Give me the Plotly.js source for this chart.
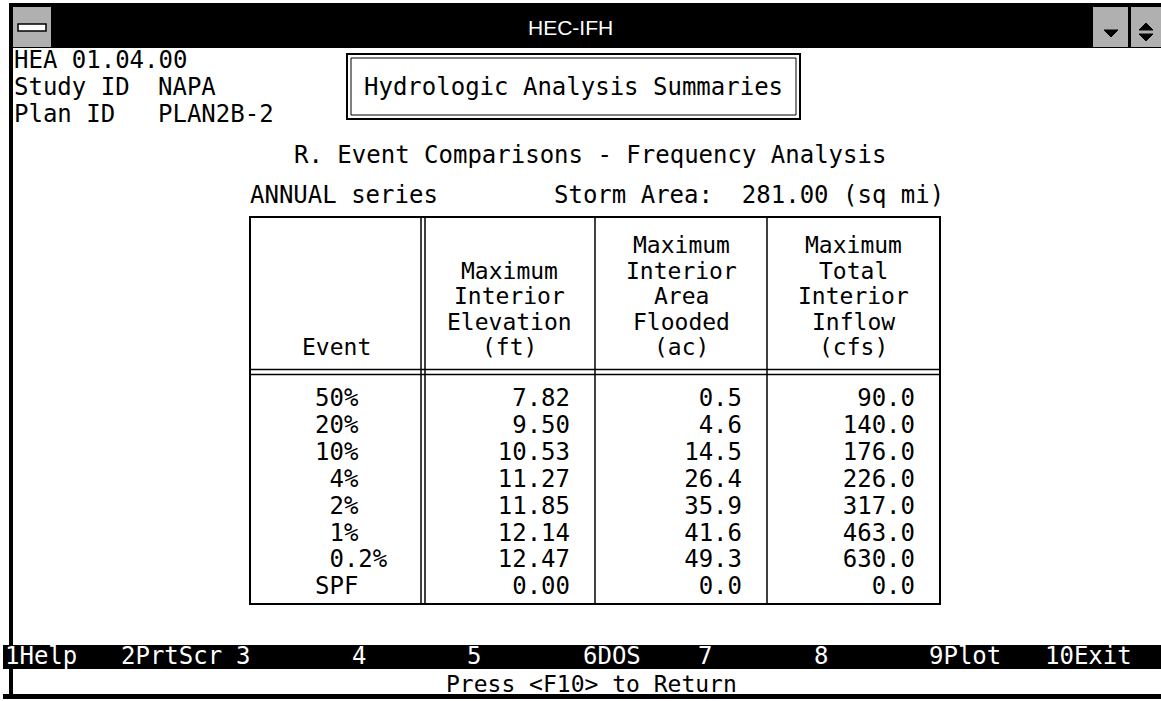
<!DOCTYPE html>
<html>
<head>
<meta charset="utf-8">
<script src="https://cdn.plot.ly/plotly-3.0.1.min.js"></script>
<style>html,body{margin:0;padding:0;background:#fff;}#chart{width:1161px;height:701px;}</style>
</head>
<body>
<div id="chart"></div>
<script>
// ---------------- data ----------------
const windowTitle = "HEC-IFH";
const infoKeys = ["HEA 01.04.00", "Study ID", "Plan ID"];
const infoValues = ["", "NAPA", "PLAN2B-2"];
const screenTitle = "Hydrologic Analysis Summaries";
const screenSubtitle = "R. Event Comparisons - Frequency Analysis";
const seriesType = "ANNUAL";
const stormAreaSqMi = 281.00;

const events = ["50%", "20%", "10%", "4%", "2%", "1%", "0.2%", "SPF"];
const maxElevationFt = [7.82, 9.50, 10.53, 11.27, 11.85, 12.14, 12.47, 0.00];
const maxAreaFloodedAc = [0.5, 4.6, 14.5, 26.4, 35.9, 41.6, 49.3, 0.0];
const maxInflowCfs = [90.0, 140.0, 176.0, 226.0, 317.0, 463.0, 630.0, 0.0];

const headerEvent = ["Event"];
const headerElevation = ["Maximum", "Interior", "Elevation", "(ft)"];
const headerArea = ["Maximum", "Interior", "Area", "Flooded", "(ac)"];
const headerInflow = ["Maximum", "Total", "Interior", "Inflow", "(cfs)"];

const functionKeys = ["1Help", "2PrtScr", "3", "4", "5", "6DOS", "7", "8", "9Plot", "10Exit"];
const promptText = "Press <F10> to Return";

// ---------------- layout constants ----------------
const W = 1161, H = 701;
const MONO = "DejaVu Sans Mono";
const FS = 24;
const CW = 14.44;           // character cell width
const NB = "\u00a0";
const colX = [250, 423, 595, 767, 940];
const tableTop = 217, headSep = 372, tableBottom = 604;
const rowY0 = 400, rowPitch = 26.9;
const headBottomY = 347, headPitch = 25.5, headFS = 23;
const valuePad = 25;

const annotations = [];
const shapes = [];
function txt(x, y, text, o) {
  o = o || {};
  annotations.push({
    x: x, y: y, xref: "x", yref: "y", text: text, showarrow: false,
    xanchor: o.xa || "left", yanchor: "middle", align: o.align || "left",
    font: {family: o.family || MONO, size: o.size || FS, color: o.color || "#000"},
    borderpad: 0
  });
}
function rect(x0, y0, x1, y1, fill, line, lw) {
  shapes.push({type: "rect", xref: "x", yref: "y", x0: x0, y0: y0, x1: x1, y1: y1,
    fillcolor: fill || "rgba(0,0,0,0)", line: {color: line || "rgba(0,0,0,0)", width: lw || 0}, layer: "below"});
}
function lineSeg(x0, y0, x1, y1, w) {
  shapes.push({type: "line", xref: "x", yref: "y", x0: x0, y0: y0, x1: x1, y1: y1,
    line: {color: "#000", width: w || 2}});
}
function tri(path, fill) {
  shapes.push({type: "path", xref: "x", yref: "y", path: path, fillcolor: fill, line: {color: fill, width: 1}});
}

// ---- window chrome ----
rect(9, 3, W, 48, "#000");                 // title bar
rect(13, 7, 51, 47, "#b0b0b0");            // system menu box
rect(18, 24, 46, 31, "#fff", "#000", 1.5);
rect(1093, 7, 1128, 47, "#b0b0b0");        // buttons
rect(1131, 7, W, 47, "#b0b0b0");
tri("M1104,30 L1118,30 L1111,37 Z", "#000");
tri("M1139,30 L1153,30 L1146,23 Z", "#000");
tri("M1139,34 L1153,34 L1146,41 Z", "#000");
rect(9, 3, 13, 698, "#000");               // left frame
rect(3, 645, W, 669, "#000");              // function key bar
rect(3, 694, W, 699, "#000");              // bottom frame
txt(570, 27, windowTitle, {xa: "center", family: "Liberation Sans", size: 21, color: "#fff"});

// ---- info lines ----
infoKeys.forEach(function (k, i) {
  const y = 60 + i * 27;
  txt(13, y, k);
  if (infoValues[i]) txt(13 + 10 * CW, y, infoValues[i]);
});

// ---- title box ----
rect(347, 54, 800, 119, null, "#000", 2);
rect(351, 58, 796, 115, null, "#000", 1);
txt(573.5, 87, screenTitle, {xa: "center"});
txt(4 + 20 * CW, 155, screenSubtitle);
txt(4 + 17 * CW, 195, seriesType + " series");
txt(4 + 38 * CW, 195, "Storm Area:" + NB + NB + stormAreaSqMi.toFixed(2) + " (sq mi)");

// ---- table frame ----
rect(colX[0], tableTop, colX[4], tableBottom, null, "#000", 2);
lineSeg(colX[1] - 2, tableTop, colX[1] - 2, tableBottom, 1.5);
lineSeg(colX[1] + 2, tableTop, colX[1] + 2, tableBottom, 1.5);
lineSeg(colX[2], tableTop, colX[2], tableBottom, 1.5);
lineSeg(colX[3], tableTop, colX[3], tableBottom, 1.5);
lineSeg(colX[0], headSep - 2.5, colX[4], headSep - 2.5, 1.5);
lineSeg(colX[0], headSep + 2.5, colX[4], headSep + 2.5, 1.5);

// ---- headers ----
[headerEvent, headerElevation, headerArea, headerInflow].forEach(function (lines, c) {
  const cx = (colX[c] + colX[c + 1]) / 2;
  lines.forEach(function (s, j) {
    const y = headBottomY - (lines.length - 1 - j) * headPitch;
    txt(cx, y, s, {xa: "center", size: headFS});
  });
});

// ---- data rows via scatter text traces ----
const rowYs = events.map(function (_, i) { return rowY0 + i * rowPitch; });
function eventLabel(e) {
  if (e.indexOf(".") >= 0) return NB + e;
  if (e.length < 3) return NB + e;
  return e;
}
function textTrace(xs, ys, texts, pos) {
  return {
    type: "scatter", mode: "text", x: xs, y: ys, text: texts, textposition: pos,
    textfont: {family: MONO, size: FS, color: "#000"}, hoverinfo: "skip", cliponaxis: false, showlegend: false
  };
}
const traces = [
  textTrace(events.map(function () { return 315; }), rowYs, events.map(eventLabel), "middle right"),
  textTrace(maxElevationFt.map(function () { return colX[2] - valuePad; }), rowYs, maxElevationFt.map(function (v) { return v.toFixed(2); }), "middle left"),
  textTrace(maxAreaFloodedAc.map(function () { return colX[3] - valuePad; }), rowYs, maxAreaFloodedAc.map(function (v) { return v.toFixed(1); }), "middle left"),
  textTrace(maxInflowCfs.map(function () { return colX[4] - valuePad; }), rowYs, maxInflowCfs.map(function (v) { return v.toFixed(1); }), "middle left")
];

// ---- function keys & prompt ----
functionKeys.forEach(function (k, i) {
  txt(4 + i * 8 * CW, 655.5, k, {color: "#fff"});
});
txt(591, 683.5, promptText, {xa: "center", size: 23});

const layout = {
  width: W, height: H,
  margin: {l: 0, r: 0, t: 0, b: 0, pad: 0},
  paper_bgcolor: "#fff", plot_bgcolor: "#fff",
  xaxis: {range: [0, W], visible: false, fixedrange: true},
  yaxis: {range: [H, 0], visible: false, fixedrange: true},
  showlegend: false,
  shapes: shapes,
  annotations: annotations
};
Plotly.newPlot("chart", traces, layout, {displayModeBar: false, staticPlot: true});
</script>
</body>
</html>
